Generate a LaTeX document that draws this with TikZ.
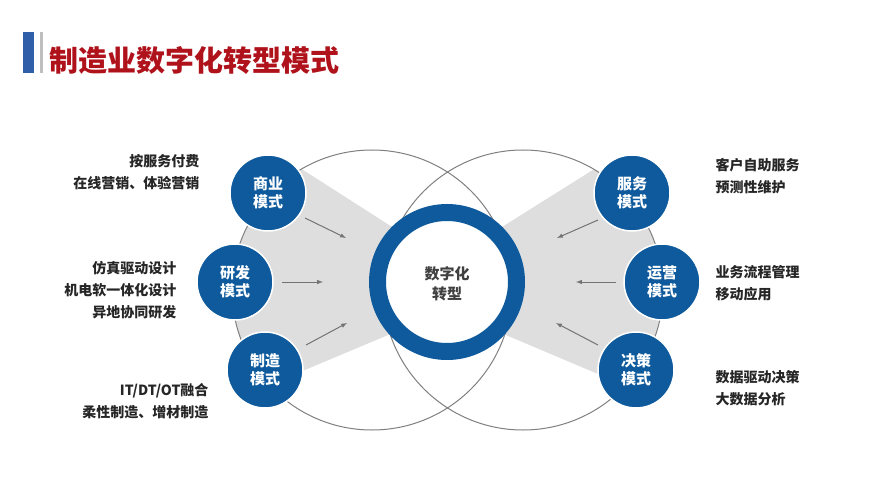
\documentclass[tikz,border=0pt]{standalone}
\usepackage{fontspec}
\setmainfont{Noto Sans CJK SC}
\definecolor{nblue}{HTML}{0E5A9C}
\definecolor{tred}{HTML}{B0121B}
\definecolor{bar}{HTML}{2E5FA8}
\begin{document}
\begin{tikzpicture}[x=1pt,y=-1pt,
  mode/.style={circle,fill=nblue,draw=white,line width=1.5pt,minimum size=76pt,inner sep=0pt,text=white,font=\bfseries\fontsize{15}{18}\selectfont,align=center},
  lbl/.style={font=\bfseries\fontsize{14}{22}\selectfont,text=black!85},
  arr/.style={draw=black!55,line width=1pt,-latex}]
\useasboundingbox (0,0) rectangle (877,489);
\fill[white] (0,0) rectangle (877,489);
% title
\fill[bar] (23,32) rectangle (34,73);
\fill[black!25] (40,32) rectangle (43,73);
\node[anchor=west,text=tred,font=\bfseries\fontsize{29}{32}\selectfont] (title) at (46,60) {制造业数字化转型模式};
% shading
\begin{scope}
\clip (372,290) circle (140);
\fill[black!13] (300,168) -- (400,232) -- (400,330) -- (300,372) -- (200,372) -- (200,168) -- cycle;
\end{scope}
\begin{scope}
\clip (523,290) circle (140);
\fill[black!13] (596,168) -- (494,232) -- (494,330) -- (598,374) -- (700,374) -- (700,168) -- cycle;
\end{scope}
\draw[black!50,line width=1pt] (372,290) circle (140);
\draw[black!50,line width=1pt] (523,290) circle (140);
% center ring
\draw[nblue,line width=17pt,fill=white] (447,282) circle (69.5);
\node[font=\bfseries\fontsize{15}{20}\selectfont,text=black!75,align=center] (center) at (447,284) {数字化\\转型};
% modes
\node[mode] (sy) at (268,193) {商业\\模式};
\node[mode] (yf) at (235,282) {研发\\模式};
\node[mode] (zz) at (265,370) {制造\\模式};
\node[mode] (fw) at (632,193) {服务\\模式};
\node[mode] (yy) at (662,282) {运营\\模式};
\node[mode] (jc) at (636,370) {决策\\模式};
% arrows
\coordinate (a1) at (346,238); \coordinate (a2) at (323,282); \coordinate (a3) at (347,323);
\coordinate (b1) at (557,238); \coordinate (b2) at (576,282); \coordinate (b3) at (556,323);
\draw[arr] (305,218) -- (a1);
\draw[arr] (282,282) -- (a2);
\draw[arr] (306,345) -- (a3);
\draw[arr] (598,220) -- (b1);
\draw[arr] (616,282) -- (b2);
\draw[arr] (598,345) -- (b3);
% labels
\node[lbl,anchor=east,align=right] (l1) at (203,172) {按服务付费\\在线营销、体验营销};
\node[lbl,anchor=east,align=right] (l2) at (180,290) {仿真驱动设计\\机电软一体化设计\\异地协同研发};
\node[lbl,anchor=east,align=right] (l3) at (212,401) {IT/DT/OT融合\\柔性制造、增材制造};
\node[lbl,anchor=west,align=left] (r1) at (712,176) {客户自助服务\\预测性维护};
\node[lbl,anchor=west,align=left] (r2) at (712,283) {业务流程管理\\移动应用};
\node[lbl,anchor=west,align=left] (r3) at (712,388) {数据驱动决策\\大数据分析};
\end{tikzpicture}
\end{document}
